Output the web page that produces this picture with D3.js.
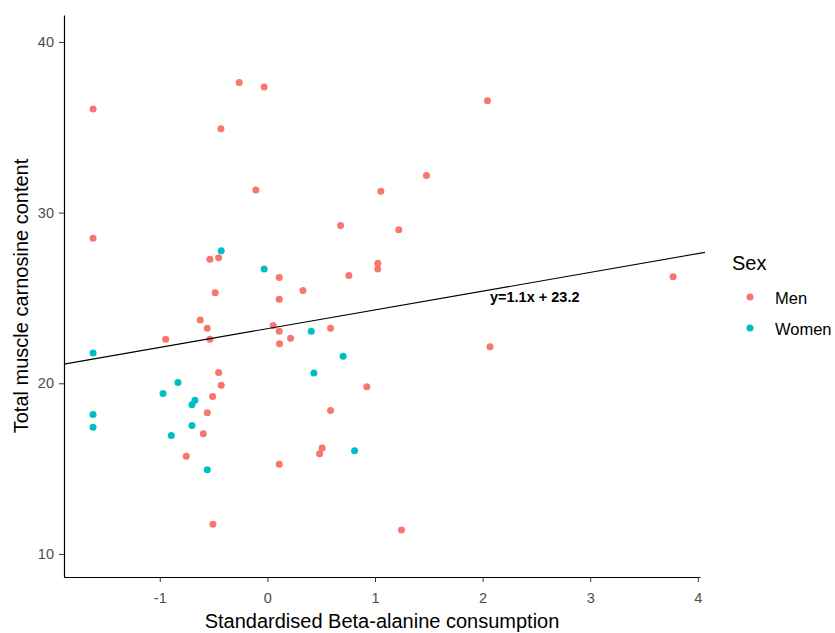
<!DOCTYPE html>
<html><head><meta charset="utf-8">
<script src="https://cdn.jsdelivr.net/npm/d3@7"></script>
<style>body{margin:0;background:#fff}svg{display:block}text{font-family:"Liberation Sans",Arial,sans-serif}</style>
</head><body><svg id="c" width="835" height="633"></svg>
<script>
const menX = [-1.62,-0.262,-0.03,-0.432,-0.107,2.045,1.478,1.054,-1.62,-0.534,-0.453,0.11,-0.485,0.11,-0.624,-0.559,0.054,0.11,0.215,0.113,-0.534,-0.945,-0.453,-0.429,-0.509,0.68,1.221,1.026,1.026,0.757,0.33,0.587,0.924,2.069,-0.559,-0.596,-0.754,0.11,-0.506,0.587,0.509,0.485,1.246,3.77];
const menY = [36.07,37.62,37.36,34.92,31.33,36.56,32.17,31.25,28.5,27.27,27.35,26.2,25.31,24.93,23.71,23.23,23.38,23.05,22.64,22.31,22.58,22.58,20.63,19.89,19.23,29.24,28.99,27.04,26.7,26.31,25.43,23.23,19.8,22.14,18.27,17.04,15.73,15.26,11.74,18.4,16.21,15.87,11.41,26.25];
const womenX = [-1.62,-1.62,-1.62,-0.429,-0.03,-0.831,-0.97,-0.673,-0.701,-0.701,-0.893,-0.559,0.407,0.704,0.432,0.81];
const womenY = [21.77,18.17,17.43,27.76,26.7,20.05,19.4,19.0,18.74,17.52,16.94,14.93,23.05,21.59,20.6,16.05];
const xTicks = [-1,0,1,2,3,4];
const yTicks = [10,20,30,40];
const sexLevels = ["Men","Women"];
const sexColors = ["#F8766D","#00BFC4"];
const slope = 1.1, intercept = 23.2;
const eqLabel = "y=1.1x + 23.2";

const svg = d3.select("#c");
const L = 64, R = 700, T = 15, B = 577;
const x = d3.scaleLinear().domain([-1.89, 4.02]).range([L, R]);
const y = d3.scaleLinear().domain([8.65, 41.58]).range([B, T]);
const color = d3.scaleOrdinal().domain(sexLevels).range(sexColors);

const pts = menX.map((v,i)=>({x:v,y:menY[i],s:"Men"}))
  .concat(womenX.map((v,i)=>({x:v,y:womenY[i],s:"Women"})));

svg.append("g").selectAll("circle").data(pts).join("circle")
  .attr("cx", d=>x(d.x)).attr("cy", d=>y(d.y)).attr("r", 3.5)
  .attr("fill", d=>color(d.s));

// regression line
const xd = x.domain();
const xEnd = x.invert(R + 5);
svg.append("line")
  .attr("x1", x(xd[0])).attr("y1", y(slope*xd[0]+intercept))
  .attr("x2", x(xEnd)).attr("y2", y(slope*xEnd+intercept))
  .attr("stroke","#000").attr("stroke-width",1.1);

svg.append("text").attr("x", 490).attr("y", 302)
  .attr("font-size", 14.5).attr("font-weight","bold").attr("text-anchor","start")
  .attr("fill","#000").text(eqLabel);

// axes
const fmt = d => String(d);
const gx = svg.append("g").attr("transform",`translate(0,${B})`)
  .call(d3.axisBottom(x).tickValues(xTicks).tickFormat(fmt).tickSize(5).tickPadding(11).tickSizeOuter(0));
const gy = svg.append("g").attr("transform",`translate(${L},0)`)
  .call(d3.axisLeft(y).tickValues(yTicks).tickFormat(fmt).tickSize(5).tickPadding(5).tickSizeOuter(0));
[gx,gy].forEach(g=>{
  g.select(".domain").attr("stroke","#000").attr("stroke-width",1.2);
  g.selectAll(".tick line").attr("stroke","#333");
  g.selectAll(".tick text").attr("fill","#4D4D4D").attr("font-size",14.5)
   .attr("font-family",'"Liberation Sans",Arial,sans-serif');
});

svg.append("text").attr("x",(L+R)/2).attr("y",628).attr("text-anchor","middle")
  .attr("font-size",20).attr("fill","#000").text("Standardised Beta-alanine consumption");
svg.append("text").attr("transform",`translate(28,${(T+B)/2}) rotate(-90)`)
  .attr("text-anchor","middle").attr("font-size",20).attr("fill","#000")
  .text("Total muscle carnosine content");

// legend
const lg = svg.append("g");
lg.append("text").attr("x",732).attr("y",270).attr("font-size",20).attr("fill","#000").text("Sex");
sexLevels.forEach((s,i)=>{
  const cy = 297 + i*31;
  lg.append("circle").attr("cx",750).attr("cy",cy).attr("r",3.5).attr("fill",color(s));
  lg.append("text").attr("x",775).attr("y",cy+7).attr("font-size",16.5).attr("fill","#000").text(s);
});
</script></body></html>
